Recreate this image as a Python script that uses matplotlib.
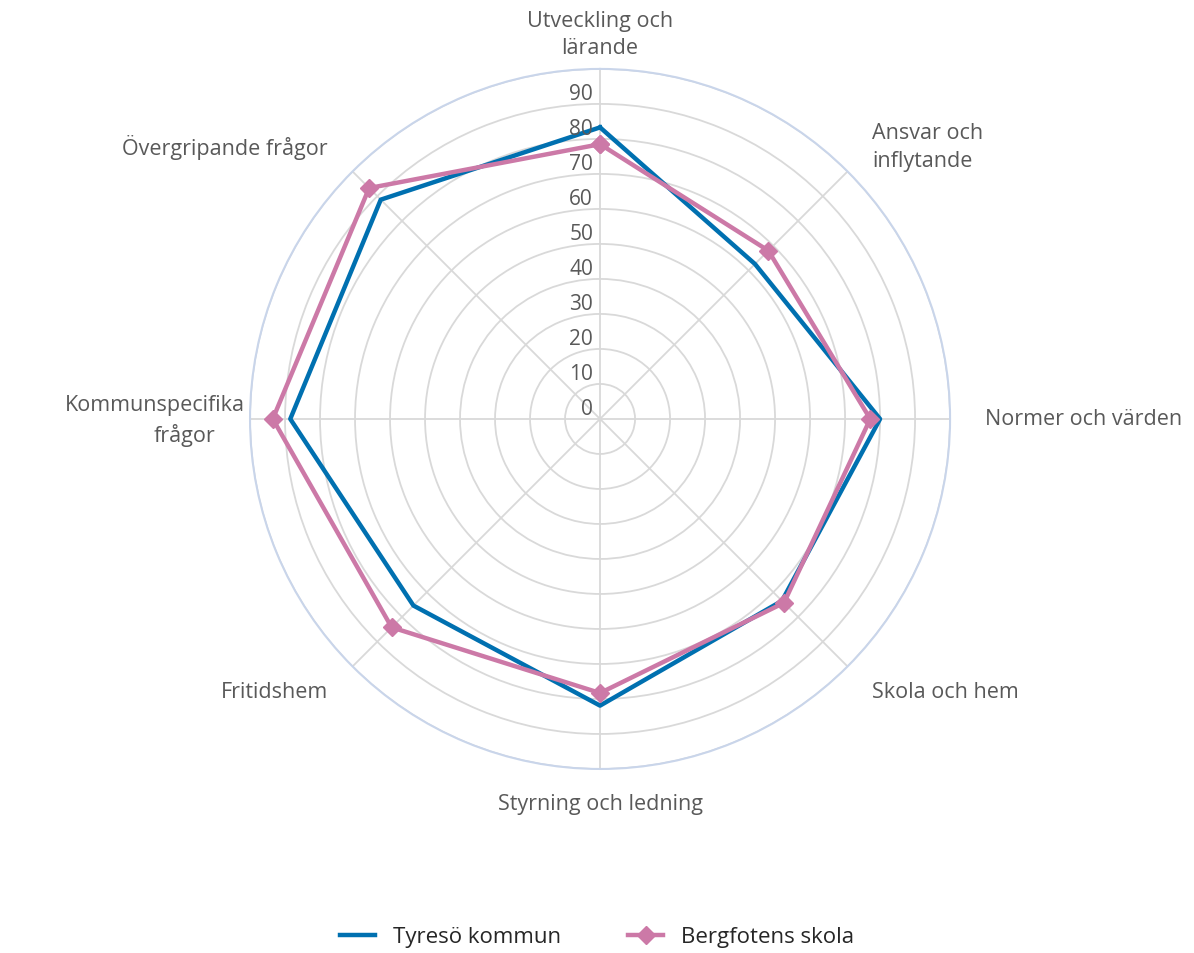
import numpy as np
import matplotlib.pyplot as plt
from matplotlib.transforms import offset_copy

plt.rcParams["font.family"] = ["Open Sans", "DejaVu Sans"]

categories = [
    "Utveckling och\nlärande",
    "Ansvar och\ninflytande",
    "Normer och värden",
    "Skola och hem",
    "Styrning och ledning",
    "Fritidshem",
    "Kommunspecifika\nfrågor",
    "Övergripande frågor",
]
tyreso = [83.3, 62.6, 80.0, 73.5, 81.9, 75.4, 88.5, 88.6]
bergfoten = [78.5, 68.0, 77.2, 74.3, 78.3, 84.2, 93.5, 93.3]
ring_ticks = [0, 10, 20, 30, 40, 50, 60, 70, 80, 90]

text_col = "#595959"
blue = "#0070B0"
pink = "#CC79A7"

fig = plt.figure(figsize=(11.94, 9.54), dpi=100)
ax = fig.add_axes([0.2094, 0.1929, 0.5863, 0.7338], projection="polar")
ax.set_theta_zero_location("N")
ax.set_theta_direction(-1)

n = len(categories)
angles = np.arange(n) * 2 * np.pi / n
closed = np.append(angles, angles[0])

ax.set_ylim(0, 100)
ax.set_yticks(np.arange(10, 101, 10))
ax.set_yticklabels([])
ax.set_xticks(angles)
ax.set_xticklabels([])
ax.grid(True, color="#D9D9D9", linewidth=1.3)
ax.spines["polar"].set_color("#C9D5EA")
ax.spines["polar"].set_linewidth(1.5)

ax.plot(closed, tyreso + tyreso[:1], color=blue, lw=3.2, label="Tyresö kommun", zorder=3)
ax.plot(closed, bergfoten + bergfoten[:1], color=pink, lw=3.2, marker="D",
        markersize=9, label="Bergfotens skola", zorder=4)

# ring labels left of the vertical axis
trans = offset_copy(ax.transData, fig=fig, x=-7, y=0, units="dots")
for t in ring_ticks:
    ax.text(0, t, str(t), transform=trans, ha="right", va="bottom",
            fontsize=15, color=text_col)

# category labels
fs = 15.5
for a, name in zip(angles, categories):
    s = np.sin(a)
    ha = "center" if abs(s) < 0.01 else ("left" if s > 0 else "right")
    if name.startswith("Kommun"):
        tr1 = offset_copy(ax.transData, fig=fig, x=30, y=14, units="dots")
        tr2 = offset_copy(ax.transData, fig=fig, x=0, y=-16, units="dots")
        ax.text(a, 110, "Kommunspecifika", transform=tr1, ha="right", va="center",
                fontsize=fs, color=text_col)
        ax.text(a, 110, "frågor", transform=tr2, ha="right", va="center",
                fontsize=fs, color=text_col)
        continue
    ax.text(a, 110, name, ha=ha, va="center", fontsize=fs, color=text_col,
            linespacing=1.4, multialignment="center" if ha == "center" else "left")

fig.legend(loc="center", bbox_to_anchor=(0.5, 0.017), ncol=2, frameon=False,
           fontsize=16, handlelength=1.6, columnspacing=3.0, markerscale=1.0)
for t in fig.legends[0].get_texts():
    t.set_color("#262626")

fig.savefig("out.png", dpi=100)
